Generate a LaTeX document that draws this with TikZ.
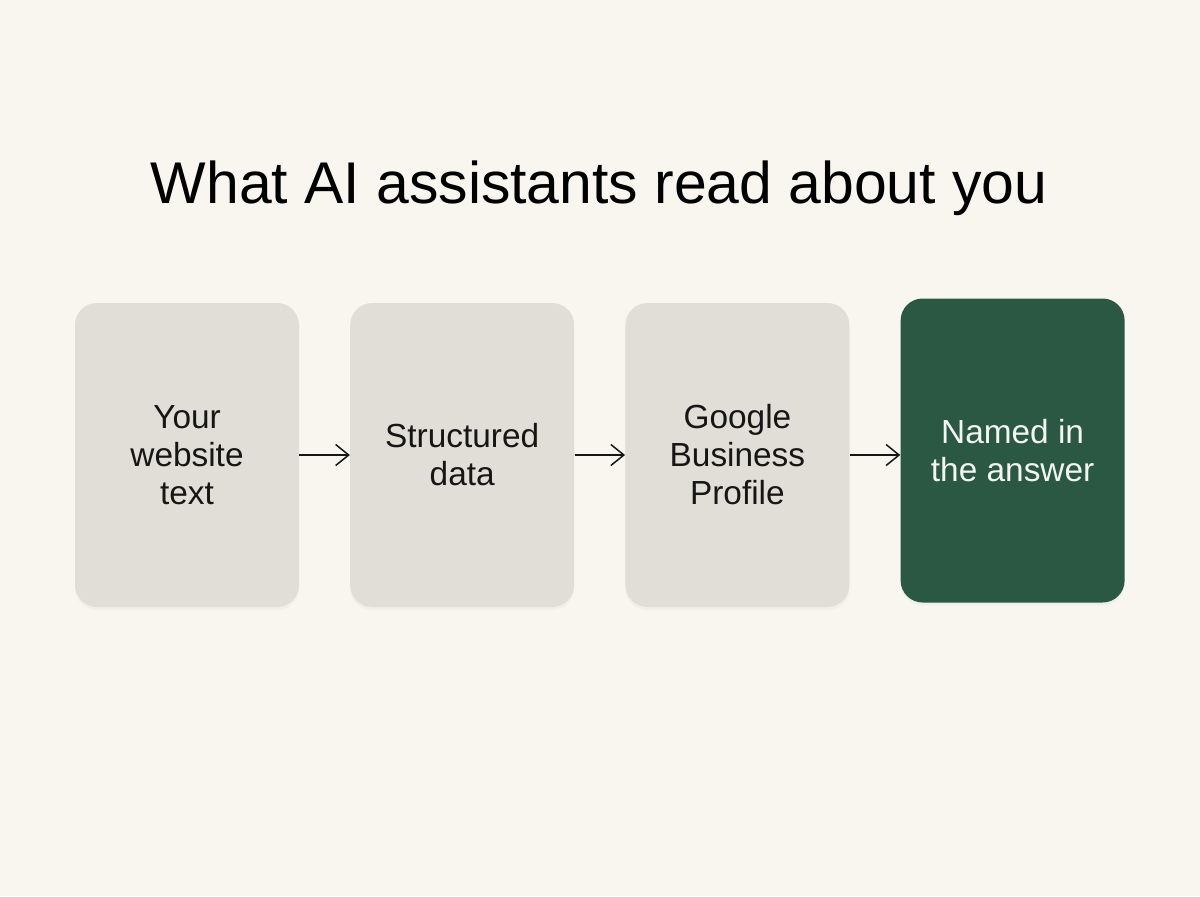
\documentclass[tikz,border=0pt]{standalone}
\usepackage{fontspec}
\setmainfont{Liberation Sans}
\usepackage{xcolor}
\usepackage{tikz}
\usetikzlibrary{arrows.meta,positioning,shadows}

\definecolor{paper}{HTML}{F8F6EF}
\definecolor{cardgray}{HTML}{E0DED6}
\definecolor{cardgreen}{HTML}{2B5843}
\definecolor{inkdark}{HTML}{161616}

\begin{document}
\begin{tikzpicture}[
    card/.style={rounded corners=0.44cm,minimum width=4.48cm,minimum height=6.08cm,align=center,
        font=\fontsize{19}{21.6}\selectfont,text=inkdark,fill=cardgray,
        drop shadow={shadow xshift=0pt,shadow yshift=-0.06cm,opacity=0.06}},
    goal/.style={card,fill=cardgreen,text=white!94!cardgreen},
    flow/.style={->,line width=0.85pt,draw=inkdark},
    >={Straight Barb[length=2.6mm,width=4.2mm]},
    node distance=1.01cm,
]
    \fill[paper] (0,0) rectangle (24,-17.92);
    \useasboundingbox (0,0) rectangle (24,-17.92);

    \node[font=\fontsize{33.5}{40}\selectfont,text=black] (title) at (11.98,-3.76) {What AI assistants read about you};

    \node[card] (website) at (3.74,-9.1) {Your\\website\\text};
    \node[card,right=of website] (schema) {Structured\\data};
    \node[card,right=of schema] (gbp) {Google\\Business\\Profile};
    \node[goal,right=of gbp,yshift=0.09cm] (answer) {Named in\\the answer};

    \draw[flow] (website) -- (schema);
    \draw[flow] (schema) -- (gbp);
    \draw[flow] (gbp.east) -- (gbp.east -| answer.west);
\end{tikzpicture}
\end{document}
